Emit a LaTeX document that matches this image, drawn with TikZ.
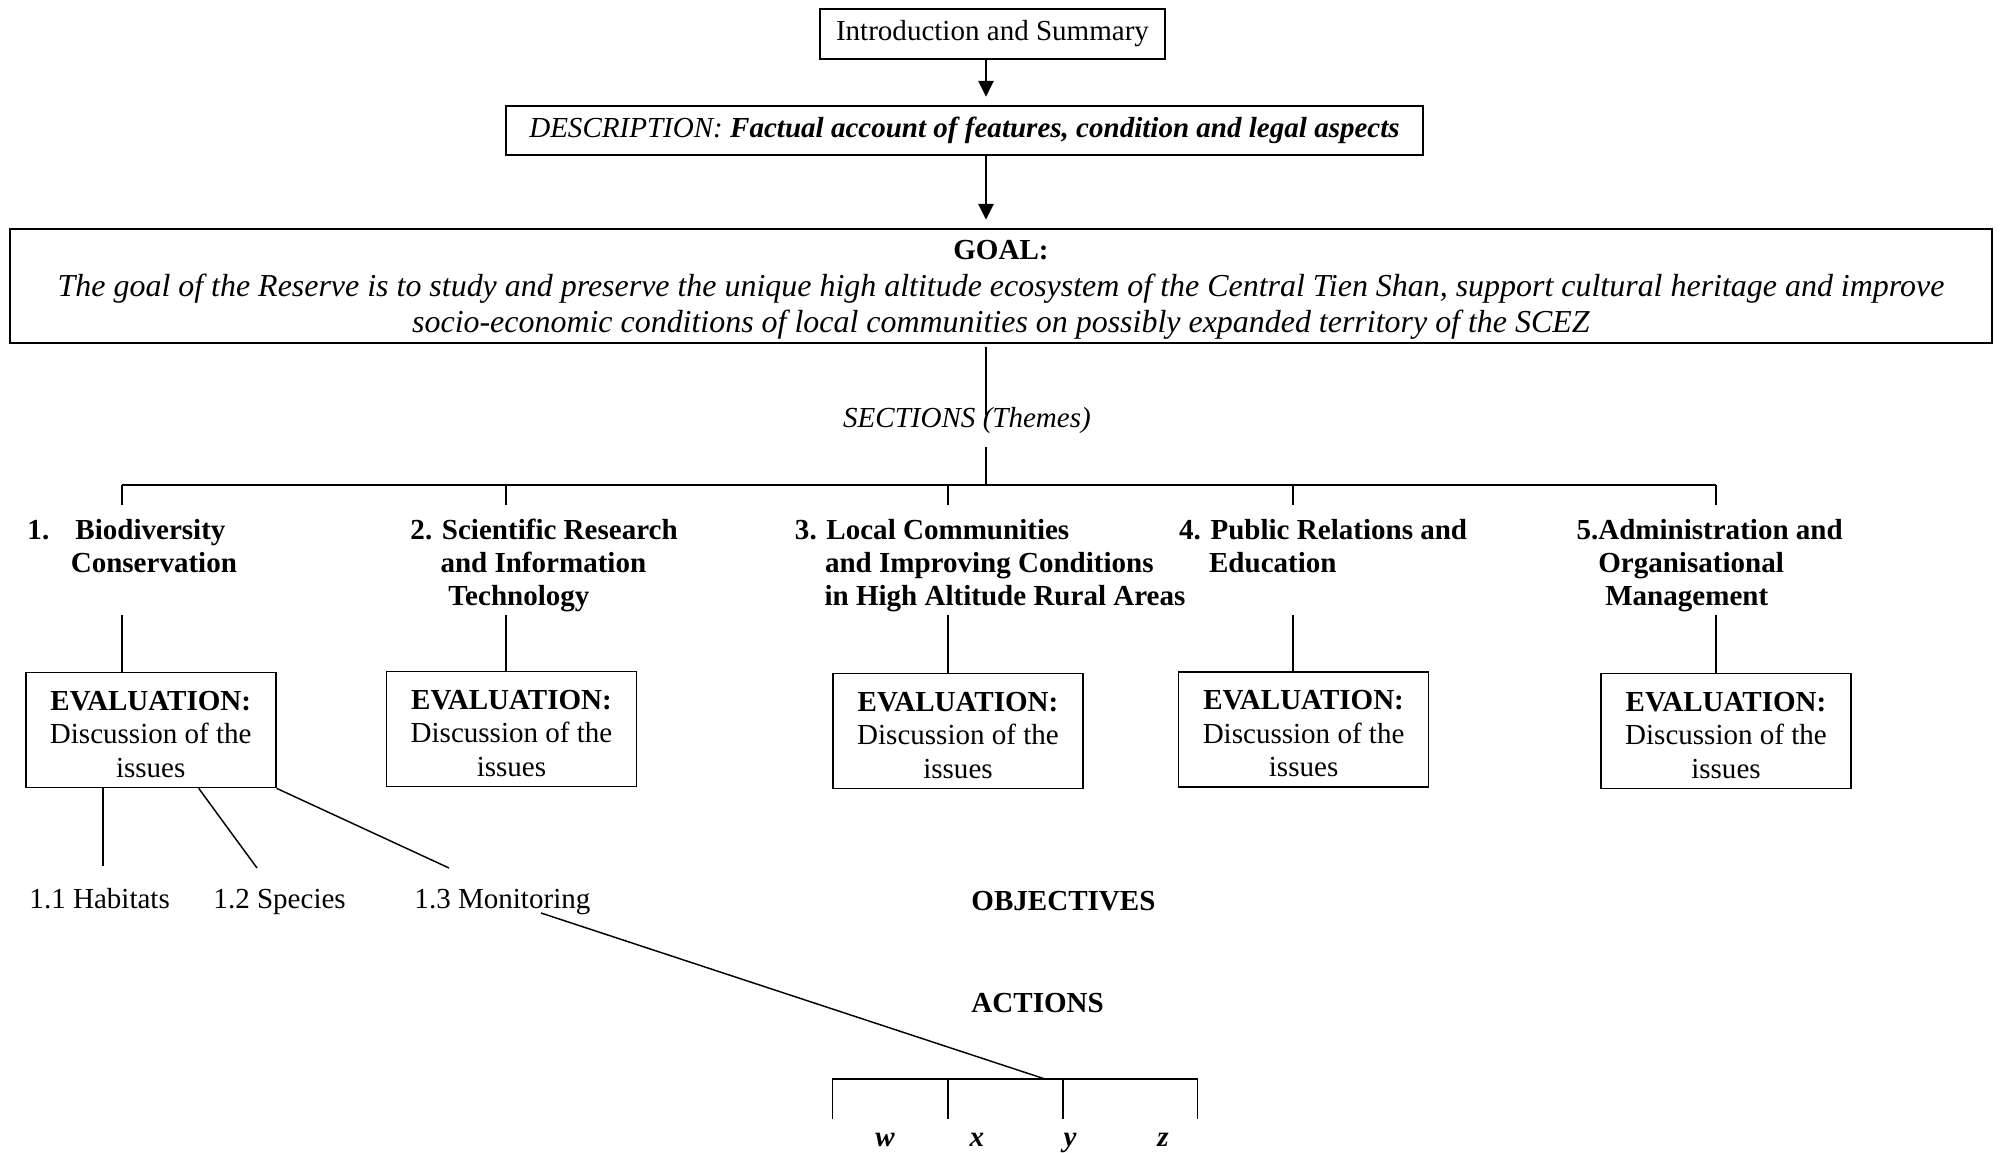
\documentclass[tikz,border=0pt]{standalone}
\usepackage{fontspec}
\setmainfont{Liberation Serif}
\usetikzlibrary{arrows.meta}
\begin{document}
\begin{tikzpicture}[x=0.4132pt,y=-0.4132pt,
  every node/.style={font=\fontsize{12}{13.8}\selectfont, inner sep=0pt},
  topbox/.style={draw, line width=0.95pt, align=center},
  evalbox/.style={draw, line width=0.7pt, minimum width=103.3pt, minimum height=47.5pt, align=center},
  heading/.style={anchor=base west, align=left, font=\fontsize{12}{13.8}\selectfont\bfseries},
  lbl/.style={anchor=base west},
  conn/.style={line width=0.6pt},
  arr/.style={line width=1pt, -{Triangle[length=6.5pt,width=6.2pt]}, shorten >=3.4pt}
]
\useasboundingbox (0,0) rectangle (2000,1153);

% top boxes
\node[topbox, minimum width=142.6pt, minimum height=20.7pt] (intro) at (992.5,34) {Introduction and Summary};
\node[topbox, minimum width=379pt, minimum height=20.2pt] (desc) at (964.5,130.5)
  {\textit{DESCRIPTION:} \textbf{\textit{Factual account of features, condition and legal aspects}}};
\node[topbox, minimum width=819pt, minimum height=47.1pt, font=\fontsize{13.2}{15.1}\selectfont] (goal) at (1001,286)
  {{\fontsize{12}{15.1}\selectfont\rule{0pt}{11.2pt}\textbf{GOAL:}}\\
   \textit{The goal of the Reserve is to study and preserve the unique high altitude ecosystem of the Central Tien Shan, support cultural heritage and improve}\\
   \textit{socio-economic conditions of local communities on possibly expanded territory of the SCEZ}};

% arrows
\coordinate (ax1) at (986,59);
\coordinate (ax2) at (986,155);
\draw[arr] (ax1) -- (desc.north -| ax1);
\draw[arr] (ax2) -- (goal.north -| ax2);

% sections
\node[anchor=base, font=\fontsize{12}{13.8}\selectfont\itshape] (sect) at (967,427) {SECTIONS (Themes)};
\coordinate (c0) at (986,347);
\coordinate (c1) at (986,415);
\coordinate (c2) at (986,447);
\coordinate (bar) at (986,485);
\draw[conn] (c0) -- (c1);
\draw[conn] (c2) -- (bar);
\coordinate (bl) at (122,485);
\coordinate (br) at (1716,485);
\draw[conn] (bl) -- (br);

% headings (base anchor = baseline of last line)
\node[heading] (h1) at (27,572.4) {1.\hspace{10.8pt}Biodiversity\\\hspace*{17.9pt}Conservation};
\node[heading] (h2) at (410,605.8) {2. Scientific Research\\\hspace*{12.4pt}and Information\\\hspace*{15.7pt}Technology};
\node[heading] (h3) at (794.5,605.8) {3. Local Communities\\\hspace*{12.4pt}and Improving Conditions\\\hspace*{12.2pt}in High Altitude Rural Areas};
\node[heading] (h4) at (1178.6,572.4) {4. Public Relations and\\\hspace*{12.4pt}Education};
\node[heading] (h5) at (1576,605.8) {5.Administration and\\\hspace*{9pt}Organisational\\\hspace*{11.9pt}Management};

% drops to headings and from headings to boxes
\foreach \i/\xx in {1/122,2/506,3/948,4/1293,5/1716}{
  \coordinate (t\i) at (\xx,485);
  \coordinate (u\i) at (\xx,505);
  \coordinate (d\i) at (\xx,615);
}
\foreach \i in {1,...,5}{ \draw[conn] (t\i) -- (u\i); }

% evaluation boxes
\newcommand\evaltext{\rule{0pt}{11.4pt}\textbf{EVALUATION:}\\Discussion of the\\issues}
\node[evalbox] (e1) at (150.75,730) {\evaltext};
\node[evalbox] (e2) at (511.5,729) {\evaltext};
\node[evalbox] (e3) at (958,731) {\evaltext};
\node[evalbox] (e4) at (1303.6,729.5) {\evaltext};
\node[evalbox] (e5) at (1726,731) {\evaltext};
\foreach \i in {1,...,5}{ \draw[conn] (d\i) -- (e\i.north -| d\i); }

% sub-items
\node[lbl] (s11) at (29,908) {1.1 Habitats};
\node[lbl] (s12) at (213,908) {1.2 Species};
\node[lbl] (s13) at (414,908) {1.3 Monitoring};
\coordinate (p11) at (103,866);
\coordinate (p12) at (257,868);
\coordinate (p13) at (449,868);
\coordinate (q12) at (198.7,788);
\draw[conn] (e1.south -| p11) -- (p11);
\draw[conn] (e1.south -| q12) -- (p12);
\draw[conn] (e1.south east) -- (p13);

% objectives / actions
\node[lbl, font=\fontsize{12}{13.8}\selectfont\bfseries] (obj) at (971,910) {OBJECTIVES};
\node[lbl, font=\fontsize{12}{13.8}\selectfont\bfseries] (act) at (971,1012) {ACTIONS};

% actions bracket
\coordinate (m1) at (541,913);
\coordinate (ab) at (1045,1079);
\draw[conn] (m1) -- (ab);
\coordinate (a1) at (832.7,1079);
\coordinate (a4) at (1197.7,1079);
\coordinate (a2) at (948,1079);
\coordinate (a3) at (1063,1079);
\draw[conn] (a1) ++(0,40) -- (a1) -- (a4) -- ++(0,40);
\draw[conn] (a2) -- ++(0,40);
\draw[conn] (a3) -- ++(0,40);
\node[anchor=base, font=\fontsize{12}{13.8}\selectfont\bfseries\itshape] (w) at (885,1146) {w};
\node[anchor=base, font=\fontsize{12}{13.8}\selectfont\bfseries\itshape] (xl) at (977,1146) {x};
\node[anchor=base, font=\fontsize{12}{13.8}\selectfont\bfseries\itshape] (yl) at (1070,1146) {y};
\node[anchor=base, font=\fontsize{12}{13.8}\selectfont\bfseries\itshape] (zl) at (1163,1146) {z};
\end{tikzpicture}
\end{document}
